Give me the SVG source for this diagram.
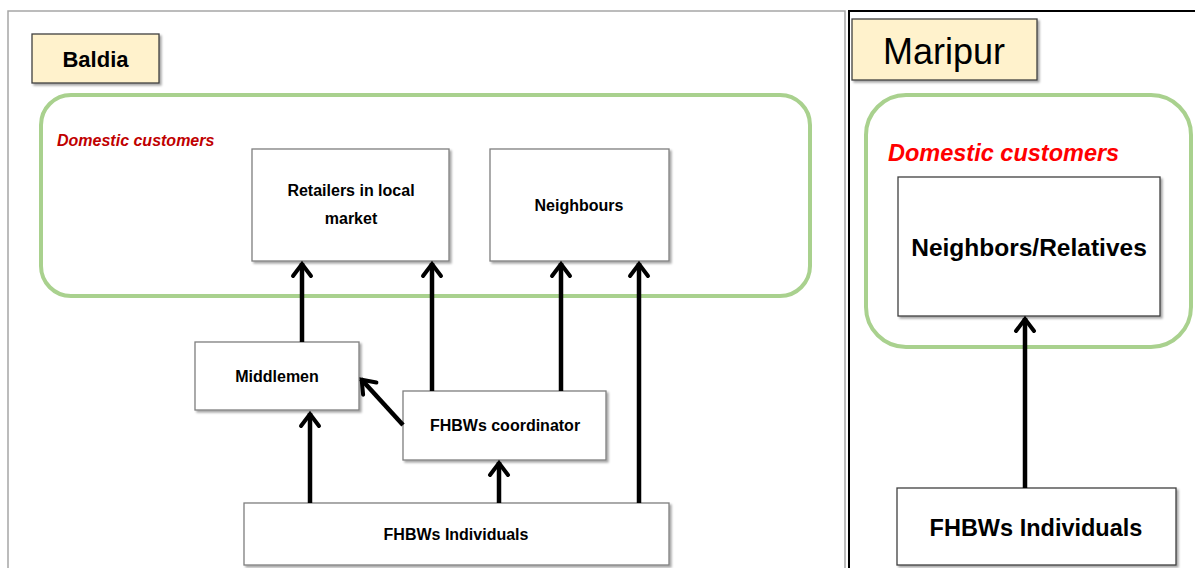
<svg xmlns="http://www.w3.org/2000/svg" width="1195" height="568" viewBox="0 0 1195 568">
  <defs>
    <filter id="shadow" x="-10%" y="-10%" width="130%" height="140%">
      <feDropShadow dx="2" dy="2" stdDeviation="1.2" flood-color="#000" flood-opacity="0.35"/>
    </filter>
    <!-- open chevron arrowhead, drawn pointing along +x -->
    <marker id="head" viewBox="0 0 24 24" refX="20" refY="12" markerWidth="24" markerHeight="24" markerUnits="userSpaceOnUse" orient="auto">
      <path d="M7,3 L19,12 L7,21" fill="none" stroke="#000" stroke-width="4" stroke-linecap="round" stroke-linejoin="miter"/>
    </marker>
  </defs>
  <style>
    text { font-family: "Liberation Sans", Arial, sans-serif; fill: #000; }
    .box { fill: #fff; stroke: #7f7f7f; stroke-width: 1.3; filter: url(#shadow); }
    .tag { fill: #fff2cc; stroke: #404040; stroke-width: 1.3; filter: url(#shadow); }
    .zone { fill: none; stroke: #a9d18e; stroke-width: 4; }
    .lbl { font-weight: bold; font-size: 16px; text-anchor: middle; }
    .flow { stroke: #000; stroke-width: 4.5; fill: none; marker-end: url(#head); }
  </style>

  <rect width="1195" height="568" fill="#fff"/>

  <!-- panel frames -->
  <rect x="8" y="11" width="837" height="570" fill="none" stroke="#a6a6a6" stroke-width="1.5"/>
  <rect x="849" y="11" width="360" height="570" fill="none" stroke="#000" stroke-width="2"/>

  <!-- Baldia panel -->
  <g id="baldia-tag">
    <rect class="tag" x="32" y="34" width="127" height="49"/>
    <text x="95.5" y="67" font-size="22" font-weight="bold" text-anchor="middle">Baldia</text>
  </g>
  <g id="baldia-domestic">
    <rect class="zone" x="41" y="95" width="769" height="201" rx="30"/>
    <text x="57" y="146" font-size="16" font-weight="bold" font-style="italic" style="fill:#c00000">Domestic customers</text>
  </g>
  <g id="retailers">
    <rect class="box" x="252" y="149" width="197" height="112"/>
    <text class="lbl" x="351" y="196">Retailers in local</text>
    <text class="lbl" x="351" y="224">market</text>
  </g>
  <g id="neighbours">
    <rect class="box" x="490" y="149" width="179" height="112"/>
    <text class="lbl" x="579" y="211">Neighbours</text>
  </g>
  <g id="middlemen">
    <rect class="box" x="195" y="342" width="164" height="68"/>
    <text class="lbl" x="277" y="382" font-size="17">Middlemen</text>
  </g>
  <g id="coordinator">
    <rect class="box" x="403" y="391" width="203" height="69"/>
    <text class="lbl" x="505" y="431">FHBWs coordinator</text>
  </g>
  <g id="individuals-baldia">
    <rect class="box" x="244" y="503" width="425" height="62"/>
    <text class="lbl" x="456" y="540">FHBWs Individuals</text>
  </g>

  <!-- Maripur panel -->
  <g id="maripur-tag">
    <rect class="tag" x="852" y="19" width="185" height="61"/>
    <text x="944" y="64" font-size="36" text-anchor="middle">Maripur</text>
  </g>
  <g id="maripur-domestic">
    <rect class="zone" x="866" y="95" width="325" height="252" rx="40"/>
    <text x="888" y="161" font-size="23.5" font-weight="bold" font-style="italic" style="fill:#ff0000">Domestic customers</text>
  </g>
  <g id="relatives">
    <rect class="box" x="898" y="177" width="262" height="139" style="stroke:#404040"/>
    <text x="1029" y="256" font-size="24.5" font-weight="bold" text-anchor="middle">Neighbors/Relatives</text>
  </g>
  <g id="individuals-maripur">
    <rect class="box" x="897" y="488" width="279" height="77" style="stroke:#404040"/>
    <text x="1036" y="536" font-size="23.5" font-weight="bold" text-anchor="middle">FHBWs Individuals</text>
  </g>

  <!-- connectors -->
  <g id="connectors">
    <line class="flow" x1="302" y1="342" x2="302" y2="263"/>
    <line class="flow" x1="432" y1="391" x2="432" y2="263"/>
    <line class="flow" x1="561" y1="391" x2="561" y2="263"/>
    <line class="flow" x1="639" y1="503" x2="639" y2="263"/>
    <line class="flow" x1="310" y1="503" x2="310" y2="413"/>
    <line class="flow" x1="499" y1="503" x2="499" y2="462"/>
    <line class="flow" x1="403" y1="425" x2="361" y2="379"/>
    <line class="flow" x1="1025" y1="488" x2="1025" y2="318"/>
  </g>
</svg>
